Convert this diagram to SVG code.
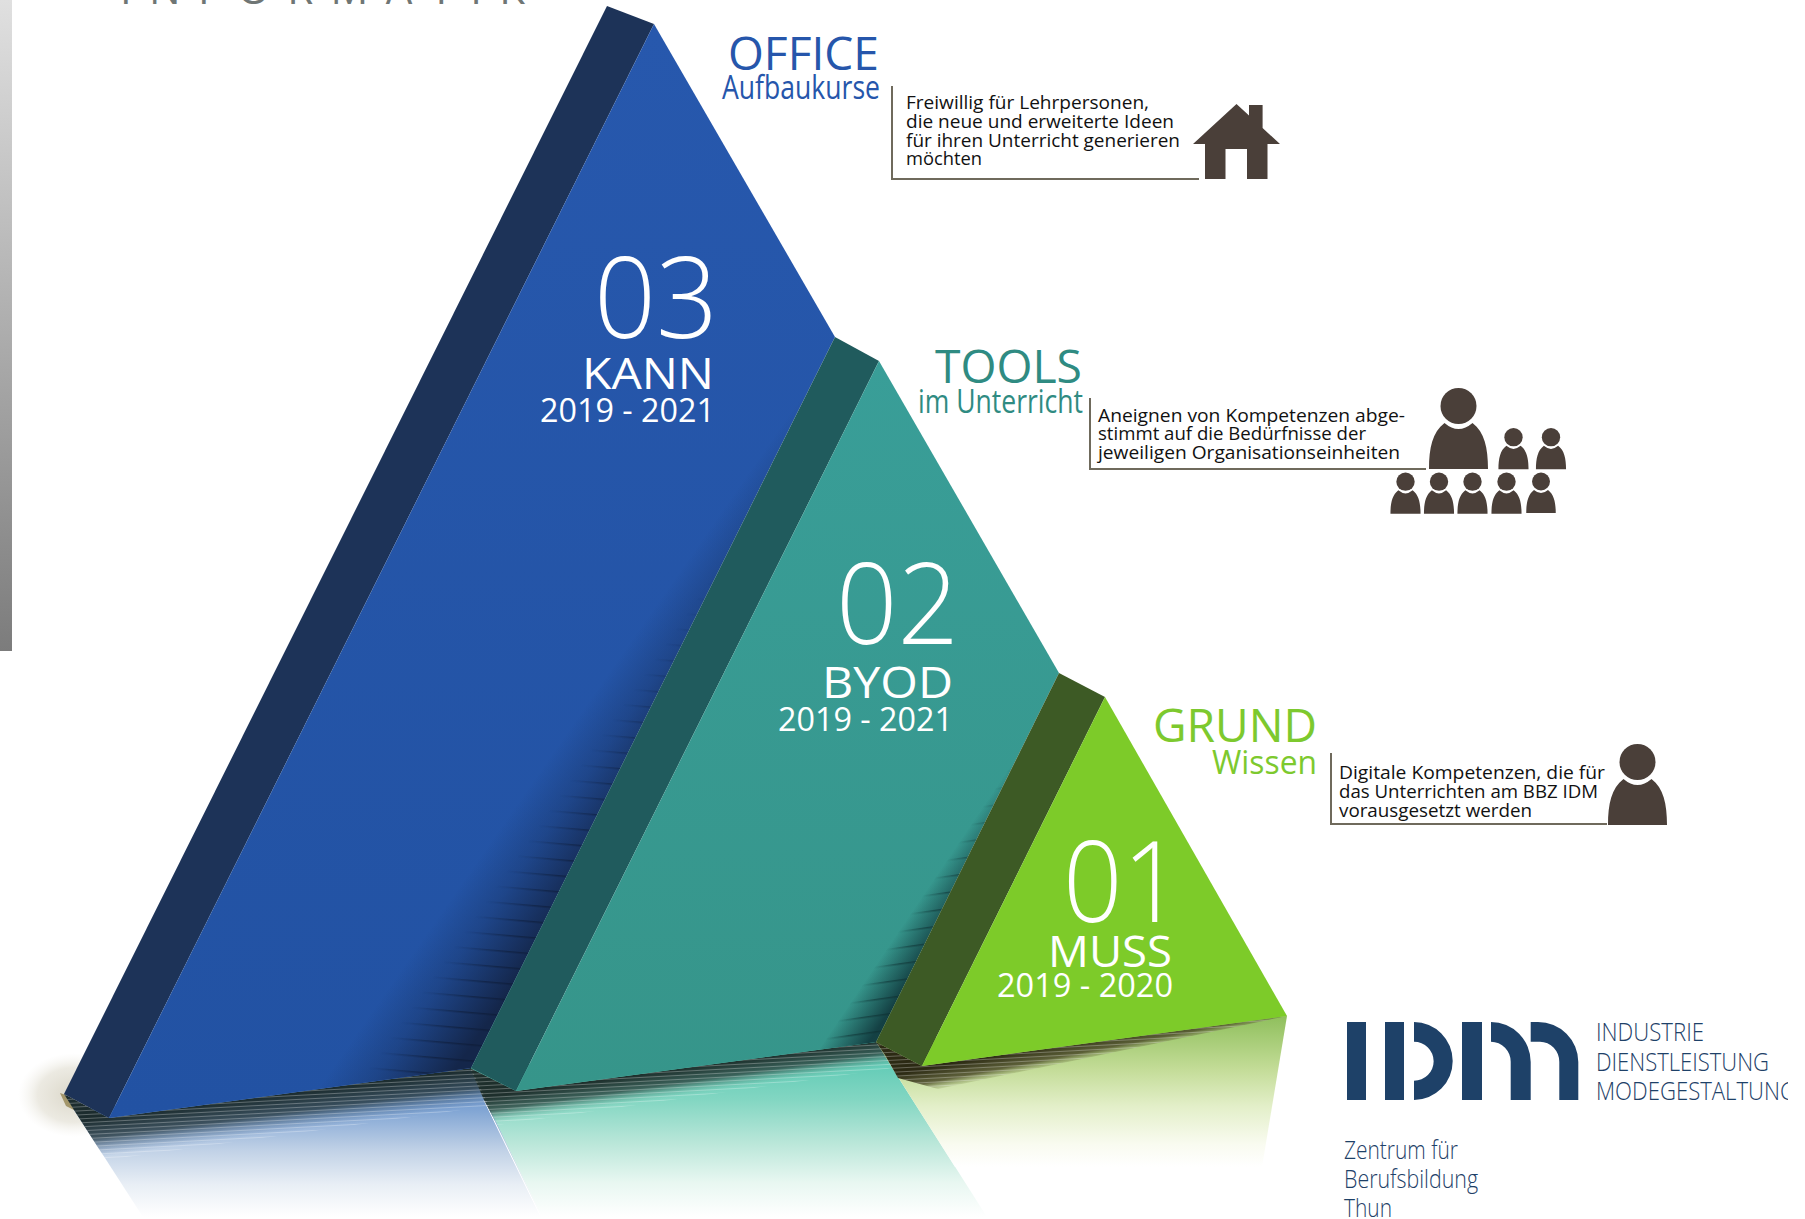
<svg xmlns="http://www.w3.org/2000/svg" width="1805" height="1219" viewBox="0 0 1805 1219">
<style>
text{font-family:"Open Sans","Noto Sans","Liberation Sans",sans-serif}
.w{fill:#fff}
.big{font-size:112px;font-weight:350}
.name{font-size:44px;font-weight:450}
.yr{font-size:32px;font-weight:450}
.t{font-size:18px;fill:#111;font-weight:500}
.h1{font-size:46px;font-weight:500}
.h2{font-size:32px}
.logo{fill:#1e4168}
.lt{font-size:26px;font-weight:350;fill:#1e4168}
.lz{font-size:25px;font-weight:350;fill:#1e4168}
.br{fill:none;stroke:#6f6a5c;stroke-width:2}
.ic{fill:#4a3f39}
</style>
<defs>
<linearGradient id="bar" x1="0" y1="0" x2="0" y2="1"><stop offset="0" stop-color="#e0e0e0"/><stop offset="1" stop-color="#7c7c7c"/></linearGradient>
<radialGradient id="halo"><stop offset="0" stop-color="#b5ad90" stop-opacity=".5"/><stop offset=".65" stop-color="#cfcab6" stop-opacity=".4"/><stop offset="1" stop-color="#e8e6dc" stop-opacity="0"/></radialGradient>
<linearGradient id="rb" gradientUnits="userSpaceOnUse" x1="0" y1="1068" x2="0" y2="1217"><stop offset="0" stop-color="#5f8cc8"/><stop offset=".27" stop-color="#7ea3d3"/><stop offset=".55" stop-color="#c0d1e6"/><stop offset=".78" stop-color="#e8eef5"/><stop offset="1" stop-color="#fff"/></linearGradient>
<linearGradient id="rt" gradientUnits="userSpaceOnUse" x1="0" y1="1060" x2="0" y2="1217"><stop offset="0" stop-color="#5fcab5"/><stop offset=".25" stop-color="#82d6c2"/><stop offset=".52" stop-color="#b8e6d8"/><stop offset=".78" stop-color="#e8f7f1"/><stop offset="1" stop-color="#fff"/></linearGradient>
<linearGradient id="rg" gradientUnits="userSpaceOnUse" x1="0" y1="1016" x2="0" y2="1167"><stop offset="0" stop-color="#8fbf5c"/><stop offset=".35" stop-color="#c3dc97"/><stop offset=".6" stop-color="#e3efc9"/><stop offset=".85" stop-color="#f9fbf0"/><stop offset="1" stop-color="#fff"/></linearGradient>
<linearGradient id="b3" gradientUnits="userSpaceOnUse" x1="0" y1="24" x2="0" y2="1118"><stop offset="0" stop-color="#2758ad"/><stop offset="1" stop-color="#2252a3"/></linearGradient>
<linearGradient id="b2" gradientUnits="userSpaceOnUse" x1="0" y1="361" x2="0" y2="1091"><stop offset="0" stop-color="#399e98"/><stop offset="1" stop-color="#36958a"/></linearGradient>
<linearGradient id="s3" gradientUnits="userSpaceOnUse" x1="380" y1="1000" x2="463" y2="1058"><stop offset="0" stop-color="#14264a" stop-opacity="0"/><stop offset=".4" stop-color="#14264a" stop-opacity=".3"/><stop offset="1" stop-color="#14264a" stop-opacity="1"/></linearGradient>
<linearGradient id="s3w" gradientUnits="userSpaceOnUse" x1="380" y1="1000" x2="463" y2="1058"><stop offset=".3" stop-color="#000"/><stop offset=".75" stop-color="#fff"/></linearGradient>
<linearGradient id="s2" gradientUnits="userSpaceOnUse" x1="852" y1="1000" x2="883" y2="1021"><stop offset="0" stop-color="#123c40" stop-opacity="0"/><stop offset="1" stop-color="#123c40" stop-opacity=".95"/></linearGradient>
<linearGradient id="s2w" gradientUnits="userSpaceOnUse" x1="852" y1="1000" x2="883" y2="1021"><stop offset="0" stop-color="#000"/><stop offset=".5" stop-color="#fff"/></linearGradient>
<linearGradient id="d3" gradientUnits="userSpaceOnUse" x1="290" y1="1093" x2="295" y2="1131"><stop offset="0" stop-color="#1c2c2e"/><stop offset=".5" stop-color="#2a3d45" stop-opacity=".82"/><stop offset="1" stop-color="#5a7fae" stop-opacity="0"/></linearGradient>
<linearGradient id="d2" gradientUnits="userSpaceOnUse" x1="696" y1="1066.500" x2="700" y2="1094"><stop offset="0" stop-color="#1e2f2c"/><stop offset=".5" stop-color="#2f4a45" stop-opacity=".82"/><stop offset="1" stop-color="#6fc4ae" stop-opacity="0"/></linearGradient>
<linearGradient id="d1" gradientUnits="userSpaceOnUse" x1="1100" y1="1034.500" x2="1105" y2="1060"><stop offset="0" stop-color="#2c2a14"/><stop offset=".55" stop-color="#4d4c2a" stop-opacity=".85"/><stop offset="1" stop-color="#b5d080" stop-opacity="0"/></linearGradient>
<pattern id="hatch" patternUnits="userSpaceOnUse" width="40" height="4" patternTransform="rotate(-3)"><rect y="1" width="40" height="1" fill="#fff" fill-opacity=".28"/></pattern>
<pattern id="lines3" patternUnits="userSpaceOnUse" width="60" height="16" patternTransform="rotate(5)"><rect y="7" width="60" height="1.500" fill="#0c1830" fill-opacity=".5"/></pattern>
<pattern id="lines2" patternUnits="userSpaceOnUse" width="60" height="16" patternTransform="rotate(-8)"><rect y="7" width="60" height="1.500" fill="#0c2a2c" fill-opacity=".5"/></pattern>
<mask id="m3" maskUnits="userSpaceOnUse" x="0" y="0" width="1805" height="1219"><rect width="1805" height="1219" fill="url(#s3w)"/></mask>
<mask id="m2" maskUnits="userSpaceOnUse" x="0" y="0" width="1805" height="1219"><rect width="1805" height="1219" fill="url(#s2w)"/></mask>
<g id="person"><ellipse cx="0" cy="18" rx="18" ry="18"/><path d="M-29.500 81C-29.500 60-26 44-14 35Q0 47 14 35C26 44 29.500 60 29.500 81Z"/></g>
<clipPath id="clipLogo"><rect x="1590" y="1010" width="198" height="100"/></clipPath>
</defs>

<rect id="side-bar" x="0" y="0" width="12" height="651" fill="url(#bar)"/>
<text id="page-title" x="120" y="4" font-size="42" fill="#6f7675" textLength="405">INFORMATIK</text>

<g id="ground">
<ellipse cx="74" cy="1095" rx="56" ry="42" fill="url(#halo)"/>
<path d="M60 1093L66 1095L76 1111L66 1106Z" fill="#a3966a"/>
<polygon points="74,1110 471,1068 542,1217 143,1217" fill="url(#rb)"/>
<polygon points="470,1068 876,1042 898,1077 987,1217 542,1217" fill="url(#rt)"/>
<polygon points="876,1042 1287,1016 1262,1167 955,1167 898,1077" fill="url(#rg)"/>
<line x1="484" y1="1100" x2="540" y2="1215" stroke="#fff" stroke-width="1"/>
<polygon points="64,1094 109,1118 471,1068 489,1106 106,1160 74,1110" fill="url(#d3)"/>
<polygon points="470,1068 516,1091 876,1042 893,1068 497,1125 484,1100" fill="url(#d2)"/>
<polygon points="876,1042 922,1066 1287,1016 938,1089 898,1078 885,1055" fill="url(#d1)"/>
<polygon points="64,1094 109,1118 471,1068 489,1106 106,1160 74,1110" fill="url(#hatch)"/>
<polygon points="470,1068 516,1091 876,1042 893,1068 497,1125 484,1100" fill="url(#hatch)"/>
<polygon points="876,1042 922,1066 1287,1016 938,1089 898,1078 885,1055" fill="url(#hatch)"/>
</g>

<g id="level-03">
<polygon points="607,6 654,24 109,1118 64,1094" fill="#1d3358"/>
<polygon points="654,24 835,337 471,1068 109,1118" fill="url(#b3)"/>
<polygon points="812,382 835,337 471,1068 318,1089" fill="url(#s3)"/>
<g mask="url(#m3)"><polygon points="812,382 835,337 471,1068 318,1089" fill="url(#lines3)"/></g>
<text class="w big" x="594" y="338" textLength="124" lengthAdjust="spacingAndGlyphs">03</text>
<text class="w name" x="582" y="389" textLength="132" lengthAdjust="spacingAndGlyphs">KANN</text>
<text class="w yr" x="540" y="422" textLength="175" lengthAdjust="spacingAndGlyphs">2019 - 2021</text>
</g>

<g id="level-02">
<polygon points="835,337 879,361 516,1091 471,1068" fill="#205b5d"/>
<polygon points="879,361 1059,673 876,1042 516,1091" fill="url(#b2)"/>
<polygon points="1016,758 1059,673 876,1042 819,1050" fill="url(#s2)"/>
<g mask="url(#m2)"><polygon points="1016,758 1059,673 876,1042 819,1050" fill="url(#lines2)"/></g>
<text class="w big" x="836" y="644" textLength="123" lengthAdjust="spacingAndGlyphs">02</text>
<text class="w name" x="822" y="698" textLength="131" lengthAdjust="spacingAndGlyphs">BYOD</text>
<text class="w yr" x="778" y="731" textLength="175" lengthAdjust="spacingAndGlyphs">2019 - 2021</text>
</g>

<g id="level-01">
<polygon points="1059,673 1105,697 922,1066 876,1042" fill="#3d5a25"/>
<polygon points="1105,697 1287,1016 922,1066" fill="#7dcb29"/>
<text class="w big" x="1063" y="922" textLength="119" lengthAdjust="spacingAndGlyphs">01</text>
<text class="w name" x="1048" y="967" textLength="124" lengthAdjust="spacingAndGlyphs">MUSS</text>
<text class="w yr" x="997" y="997" textLength="176" lengthAdjust="spacingAndGlyphs">2019 - 2020</text>
</g>

<g id="connectors">
<path class="br" d="M892 86V179H1199"/>
<path class="br" d="M1090 398V469H1426"/>
<path class="br" d="M1331 753V824H1607"/>
</g>

<g id="office">
<text class="h1" x="728" y="70" fill="#2656ab" textLength="151" lengthAdjust="spacingAndGlyphs">OFFICE</text>
<text class="h2" x="722" y="99" fill="#2656ab" textLength="158" lengthAdjust="spacingAndGlyphs">Aufbaukurse</text>
<text class="t" x="906" y="109" textLength="243" lengthAdjust="spacingAndGlyphs">Freiwillig für Lehrpersonen,</text>
<text class="t" x="906" y="128" textLength="268" lengthAdjust="spacingAndGlyphs">die neue und erweiterte Ideen</text>
<text class="t" x="906" y="147" textLength="274" lengthAdjust="spacingAndGlyphs">für ihren Unterricht generieren</text>
<text class="t" x="906" y="165" textLength="76" lengthAdjust="spacingAndGlyphs">möchten</text>
<path class="ic" d="M1236.500 104L1249 115.500V105H1262.600V128L1280 144H1267.500V179H1247V149H1225.500V179H1205V144H1193Z"/>
</g>

<g id="tools">
<text class="h1" x="935" y="383" fill="#2f8b82" textLength="147" lengthAdjust="spacingAndGlyphs">TOOLS</text>
<text class="h2" x="918" y="413" fill="#2f8b82" textLength="165" lengthAdjust="spacingAndGlyphs">im Unterricht</text>
<text class="t" x="1098" y="422" textLength="307" lengthAdjust="spacingAndGlyphs">Aneignen von Kompetenzen abge-</text>
<text class="t" x="1098" y="440" textLength="268" lengthAdjust="spacingAndGlyphs">stimmt auf die Bedürfnisse der</text>
<text class="t" x="1098" y="459" textLength="302" lengthAdjust="spacingAndGlyphs">jeweiligen Organisationseinheiten</text>
<g class="ic">
<use href="#person" transform="translate(1458.500 388)"/>
<use href="#person" transform="translate(1513.500 428) scale(.51)"/>
<use href="#person" transform="translate(1551 428) scale(.51)"/>
<use href="#person" transform="translate(1405.500 472.500) scale(.51)"/>
<use href="#person" transform="translate(1439 472.500) scale(.51)"/>
<use href="#person" transform="translate(1472.500 472.500) scale(.51)"/>
<use href="#person" transform="translate(1506.500 472.500) scale(.51)"/>
<use href="#person" transform="translate(1541 472.500) scale(.5)"/>
</g>
</g>

<g id="grund">
<text class="h1" x="1153" y="742" fill="#7dc92e" textLength="164" lengthAdjust="spacingAndGlyphs">GRUND</text>
<text class="h2" x="1212" y="774" fill="#7dc92e" textLength="105" lengthAdjust="spacingAndGlyphs">Wissen</text>
<text class="t" x="1339" y="779" textLength="266" lengthAdjust="spacingAndGlyphs">Digitale Kompetenzen, die für</text>
<text class="t" x="1339" y="798" textLength="259" lengthAdjust="spacingAndGlyphs">das Unterrichten am BBZ IDM</text>
<text class="t" x="1339" y="817" textLength="193" lengthAdjust="spacingAndGlyphs">vorausgesetzt werden</text>
<use class="ic" href="#person" transform="translate(1637.500 744)"/>
</g>

<g id="idm-logo">
<g class="logo">
<rect x="1347" y="1022" width="19" height="78"/>
<rect x="1385" y="1022" width="19" height="78"/>
<path d="M1414 1022A38.700 39 0 0 1 1414 1100V1080.700A19.500 19.350 0 0 0 1414 1041.700Z"/>
<rect x="1462" y="1022" width="20" height="78"/>
<path d="M1491 1022A39.700 40 0 0 1 1530.700 1062V1100H1510.700V1062A19.700 20 0 0 0 1491 1041.700Z"/>
<path d="M1530.700 1022H1538A40.300 40 0 0 1 1578.300 1062V1100H1559.300V1062A19.300 20 0 0 0 1540 1041.700H1530.700Z"/>
</g>
<text class="lt" x="1596" y="1041" textLength="108" lengthAdjust="spacingAndGlyphs">INDUSTRIE</text>
<text class="lt" x="1596" y="1071" textLength="173" lengthAdjust="spacingAndGlyphs">DIENSTLEISTUNG</text>
<g clip-path="url(#clipLogo)"><text class="lt" x="1596" y="1100" textLength="200" lengthAdjust="spacingAndGlyphs">MODEGESTALTUNG</text></g>
<text class="lz" x="1344" y="1159" textLength="114" lengthAdjust="spacingAndGlyphs">Zentrum für</text>
<text class="lz" x="1344" y="1188" textLength="134" lengthAdjust="spacingAndGlyphs">Berufsbildung</text>
<text class="lz" x="1344" y="1217" textLength="48" lengthAdjust="spacingAndGlyphs">Thun</text>
</g>
</svg>
